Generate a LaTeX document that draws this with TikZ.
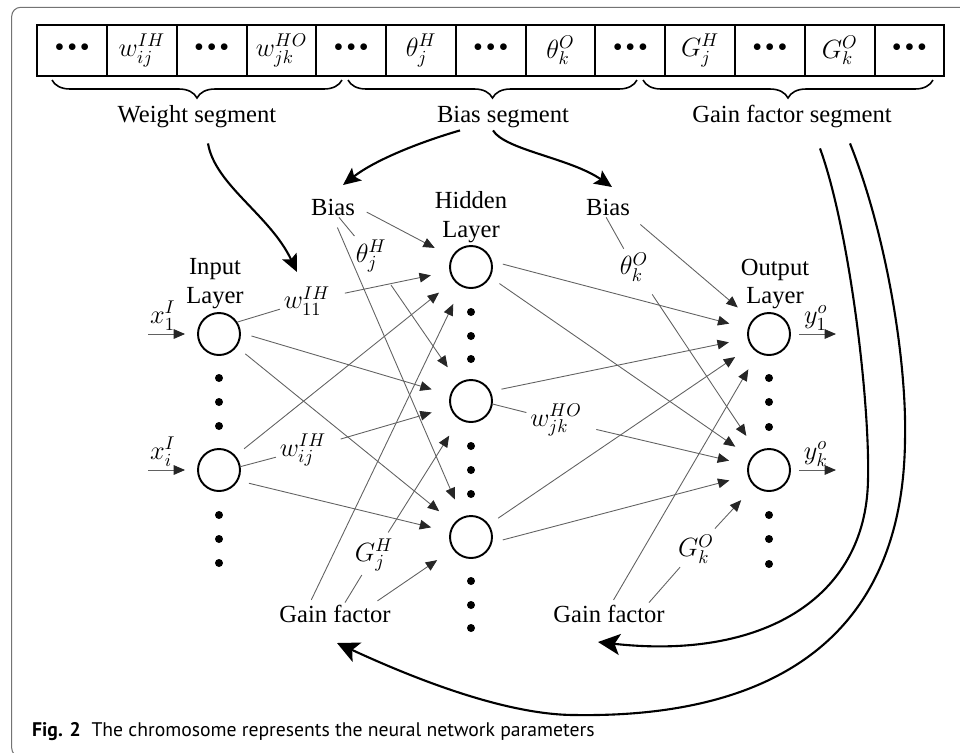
\documentclass[tikz,border=0pt]{standalone}
\usepackage{fix-cm}
\usepackage{fontspec}
\setmainfont{Liberation Serif}
\newfontfamily\capfont{PT Sans}
\usetikzlibrary{arrows.meta}
\usetikzlibrary{decorations.pathreplacing}
\tikzset{
  neuron/.style={circle, draw, line width=1.1pt, minimum size=0.84cm, inner sep=0pt},
  cell/.style={draw, line width=1.1pt, minimum width=1.395cm, minimum height=1.03cm, inner sep=0pt, font=\fontsize{15}{17}\selectfont},
  txt/.style={font=\fontsize{14}{16.5}\selectfont, inner sep=1pt},
  lbl/.style={font=\fontsize{15}{17}\selectfont, inner sep=2pt},
  wire/.style={draw=black!62, line width=0.5pt, -{Triangle[length=6.5pt,width=5.5pt,color=black!85]}, shorten >=0.38cm, shorten <=0.22cm},
  gwire/.style={wire, shorten <=0.06cm},
  inwire/.style={wire, shorten >=0.24cm, shorten <=0pt},
  outwire/.style={wire, shorten >=0pt, shorten <=0.16cm},
  big/.style={line width=1.2pt, -{Stealth[length=10pt,width=9pt,inset=2pt]}},
  bigger/.style={line width=1.2pt, -{Stealth[length=12.5pt,width=12pt,inset=3pt]}},
  brc/.style={decorate, decoration={brace, mirror, amplitude=0.36cm}, line width=0.9pt},
  frame/.style={draw=black!55, line width=0.6pt, rounded corners=0.18cm}
}
\newcommand{\bul}{{\fontsize{16}{17}\selectfont\textbullet\kern1.6pt\textbullet\kern1.6pt\textbullet}}

\begin{document}
\begin{tikzpicture}[x=0.02cm, y=-0.02cm]
\useasboundingbox (0,0) rectangle (960,752);
\draw[frame] (11.7,7.3) rectangle (990,757);

% chromosome
\foreach \t [count=\i] in {\bul,$w_{ij}^{IH}$,\bul,$w_{jk}^{HO}$,\bul,$\theta_j^H$,\bul,$\theta_k^O$,\bul,$G_j^H$,\bul,$G_k^O$,\bul}
  \node[cell] (c\i) at ({37.3+69.77*(\i-0.5)},50.5) {\t};
\draw[brc] (52,80) -- (342,80);
\draw[brc] (348,80) -- (637,80);
\draw[brc] (643,80) -- (933,80);
\node[txt, anchor=base] (wseg) at (197,122) {Weight segment};
\node[txt, anchor=base] (bseg) at (503,122) {Bias segment};
\node[txt, anchor=base] (gseg) at (792,122) {Gain factor segment};

% network
\node[neuron] (x1) at (219,334) {};
\node[neuron] (xi) at (219,470) {};
\node[neuron] (h1) at (471,267) {};
\node[neuron] (h2) at (471,401) {};
\node[neuron] (h3) at (471,537) {};
\node[neuron] (o1) at (769,334) {};
\node[neuron] (ok) at (769,470) {};
\foreach \y in {378,402,426,515,539,563} \fill (219,\y) circle (0.08cm);
\foreach \y in {312,336,359,446,470,494,581,605,628} \fill (471,\y) circle (0.08cm);
\foreach \y in {378,402,427,515,539,564} \fill (769,\y) circle (0.08cm);

\node[txt, align=center] (inlay) at (215,284) {Input\\Layer};
\node[txt, align=center] (hidlay) at (471,217) {Hidden\\Layer};
\node[txt, align=center] (outlay) at (775,284) {Output\\Layer};
\node[txt, anchor=base] (biasL) at (333,215) {Bias};
\node[txt, anchor=base] (biasR) at (608,215) {Bias};
\node[txt, anchor=base] (gainL) at (335,622) {Gain factor};
\node[txt, anchor=base] (gainR) at (609,622) {Gain factor};

\node[lbl] (w11) at (307,301) {$w_{11}^{IH}$};
\node[lbl] (wij) at (303,450) {$w_{ij}^{IH}$};
\node[lbl] (wjk) at (556,420) {$w_{jk}^{HO}$};
\node[lbl] (thj) at (371,256) {$\theta_j^H$};
\node[lbl] (thk) at (634,267) {$\theta_k^O$};
\node[lbl] (gj) at (374,555) {$G_j^H$};
\node[lbl] (gk) at (696,549) {$G_k^O$};

\coordinate (x1in) at (148,334);
\coordinate (xiin) at (148,470);
\coordinate (y1out) at (836,334);
\coordinate (ykout) at (836,470);
\draw[inwire] (x1in) -- node[lbl, above, pos=0.3] {$x_1^I$} (x1);
\draw[inwire] (xiin) -- node[lbl, above, pos=0.3] {$x_i^I$} (xi);
\draw[outwire] (o1) -- node[lbl, above, pos=0.55] {$y_1^o$} (y1out);
\draw[outwire] (ok) -- node[lbl, above, pos=0.55] {$y_k^o$} (ykout);

% input -> hidden
\draw[wire] (x1.33) -- (w11) -- (h1);
\draw[wire] (x1.3) -- (h2);
\draw[wire] (x1.-36) -- (h3);
\draw[wire] (xi.41) -- (h1);
\draw[wire] (xi.9) -- (wij) -- (h2);
\draw[wire] (xi.-29) -- (h3);
% hidden -> output
\draw[wire] (h1.15) -- (o1);
\draw[wire] (h1.-28) -- (ok);
\draw[wire] (h2.26) -- (o1);
\draw[wire] (h2.-8) -- (wjk) -- (ok);
\draw[wire] (h3.35) -- (o1);
\draw[wire] (h3.-15) -- (ok);
% bias and gain
\draw[wire] (biasL.east) -- (h1);
\draw[wire] (biasL.-60) -- (thj) -- (h2);
\draw[wire] (biasL.south) -- (h3);
\draw[wire] (biasR.south east) -- (o1);
\draw[wire] (biasR.-100) -- (thk) -- (ok);
\draw[gwire] ([xshift=-0.5cm]gainL.north) -- (h1);
\draw[gwire] ([xshift=0.2cm]gainL.north) -- (gj) -- (h2);
\draw[gwire] ([xshift=0.8cm]gainL.north) -- (h3);
\draw[gwire] ([xshift=0.06cm]gainR.north) -- (o1);
\draw[gwire] ([xshift=0.8cm]gainR.north) -- (gk) -- (ok);

% segments -> network
\coordinate (wtip) at (297,272);
\coordinate (bltip) at (343,185);
\coordinate (brtip) at (612,187);
\coordinate (grtip) at (598,642);
\coordinate (gltip) at (337,643);
\draw[big] ([xshift=0.22cm,yshift=-0.28cm]wseg.south) .. controls (215,185) and (270,215) .. (wtip);
\draw[big] ([xshift=-0.86cm,yshift=-0.02cm]bseg.south) .. controls (420,142) and (375,160) .. (bltip);
\draw[big] ([xshift=-0.2cm,yshift=-0.02cm]bseg.south) .. controls (505,150) and (570,158) .. (brtip);
\draw[bigger] ([xshift=0.56cm,yshift=-0.38cm]gseg.south) .. controls (849,228) and (870,400) .. (868,480)
  .. controls (866,600) and (760,660) .. (grtip);
\draw[bigger] ([xshift=1.16cm,yshift=-0.28cm]gseg.south) .. controls (886,233) and (907,360) .. (905,440)
  .. controls (903,640) and (770,718) .. (575,715) .. controls (500,715) and (400,672) .. (gltip);

\node[anchor=base west, font=\capfont\fontsize{11.2}{13}\selectfont] (cap) at (26,736)
  {\textbf{Fig. 2}\hspace{0.55em}The chromosome represents the neural network parameters};
\end{tikzpicture}
\end{document}
